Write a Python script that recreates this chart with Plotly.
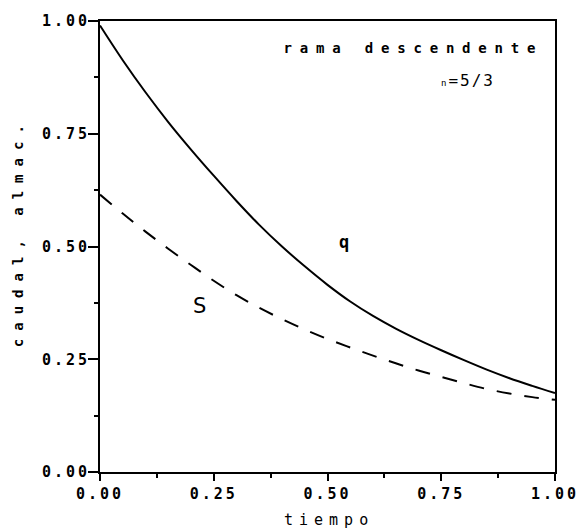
import plotly.graph_objects as go

# data
t = [0.00, 0.05, 0.10, 0.15, 0.20, 0.25, 0.30, 0.35, 0.40, 0.45, 0.50,
     0.55, 0.60, 0.65, 0.70, 0.75, 0.80, 0.85, 0.90, 0.95, 1.00]
q = [0.990, 0.913, 0.842, 0.776, 0.715, 0.657, 0.601, 0.548, 0.500, 0.456, 0.415,
     0.378, 0.346, 0.318, 0.293, 0.270, 0.248, 0.227, 0.208, 0.191, 0.175]
S = [0.615, 0.573, 0.533, 0.495, 0.459, 0.424, 0.392, 0.364, 0.339, 0.316, 0.295,
     0.276, 0.258, 0.241, 0.225, 0.211, 0.197, 0.184, 0.174, 0.166, 0.160]
tick_step = 0.25
minor_step = 0.125

FONT = "DejaVu Sans Mono"

fig = go.Figure()
fig.add_trace(go.Scatter(x=t, y=q, mode="lines", line=dict(color="black", width=2),
                         line_shape="spline", showlegend=False))
fig.add_trace(go.Scatter(x=t, y=S, mode="lines",
                         line=dict(color="black", width=2, dash="15px,13px"),
                         line_shape="spline", showlegend=False))

axis_common = dict(
    showgrid=False, zeroline=False, showline=True, linecolor="black", linewidth=2,
    mirror=True, ticks="outside", tickwidth=2, tickcolor="black",
    tickmode="linear", tick0=0, dtick=tick_step, tickformat=".2f",
    tickfont=dict(family=FONT, size=15, color="black", weight="bold"),
    range=[0, 1],
    minor=dict(ticks="outside", ticklen=4, tickwidth=2, tickcolor="black",
               tickmode="linear", tick0=0, dtick=minor_step, showgrid=False),
)
fig.update_xaxes(**axis_common, ticklen=7)
fig.update_yaxes(**axis_common, ticklen=10, ticklabelstandoff=-5)

ann_font = dict(family=FONT, color="black", weight="bold")
annotations = [
    dict(text="rama descendente", x=0.690, y=0.940, xref="x", yref="y",
         font=dict(size=14, **ann_font)),
    dict(text="<span style='font-size:9px'>n</span>=5/3", x=0.808, y=0.867,
         xref="x", yref="y", font=dict(size=16, family=FONT, color="black")),
    dict(text="q", x=0.536, y=0.509, xref="x", yref="y", font=dict(size=17, **ann_font)),
    dict(text="S", x=0.218, y=0.369, xref="x", yref="y",
         font=dict(size=21, family="DejaVu Sans", color="black")),
    dict(text="tiempo", x=0.503, y=-0.106, xref="paper", yref="paper",
         font=dict(size=15, family=FONT, color="black")),
    dict(text="caudal, almac.", x=-0.181, y=0.531, xref="paper", yref="paper",
         textangle=-90, font=dict(size=14, **ann_font)),
]
for a in annotations:
    a.update(showarrow=False, xanchor="center", yanchor="middle")

fig.update_layout(
    width=585, height=532,
    margin=dict(l=100, r=22, t=20, b=60),
    plot_bgcolor="white", paper_bgcolor="white",
    annotations=annotations,
)

js = """
var gd=document.getElementById('{plot_id}');
var m={'rama descendente':'7.8px','tiempo':'6px','caudal, almac.':'8px','n=5/3':'2px'};
gd.querySelectorAll('text').forEach(function(el){
  var s=el.textContent;
  if(m[s]){el.style.letterSpacing=m[s];}
  else if(/^\\d\\.\\d\\d$/.test(s)){el.style.letterSpacing='3px';}
});
"""
fig.write_html("out.html", post_script=js)
